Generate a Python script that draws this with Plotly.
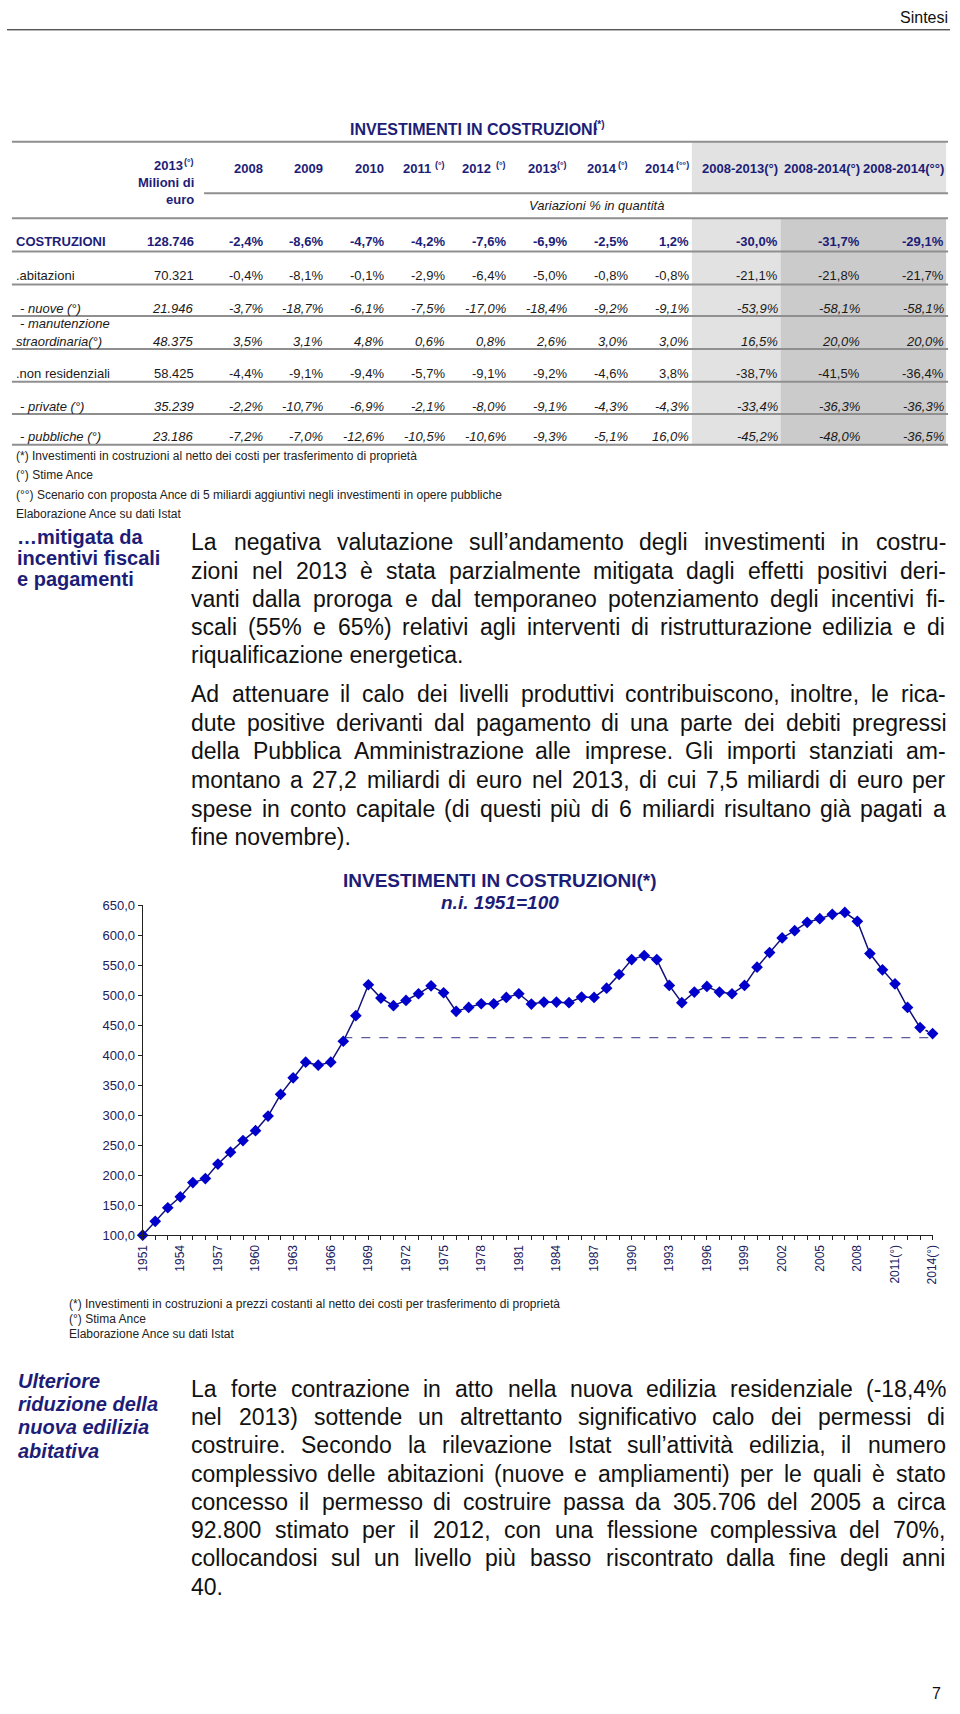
import plotly.graph_objects as go

W, H = 960, 1714
FONT = "Liberation Sans, Arial, sans-serif"
NAVY = "#1d1d77"
INK = "#1a1a1a"

# tabella: investimenti in costruzioni, variazioni % in quantità
col_heads = [("2008", ""), ("2009", ""), ("2010", ""), ("2011 ", "(°)"), ("2012 ", "(°)"), ("2013", "(°)"),
             ("2014", "(°)"), ("2014", "(°°)"), ("2008-2013(°)", ""), ("2008-2014(°)", ""), ("2008-2014(°°)", "")]
row_names = ["COSTRUZIONI", ".abitazioni", "- nuove (°)", "- manutenzione|straordinaria(°)",
             ".non residenziali", "- private (°)", "- pubbliche (°)"]
row_style = ["bold", "normal", "italic", "italic", "normal", "italic", "italic"]
mln_2013 = [128746, 70321, 21946, 48375, 58425, 35239, 23186]
var_costruzioni = [-2.4, -8.6, -4.7, -4.2, -7.6, -6.9, -2.5, 1.2, -30.0, -31.7, -29.1]
var_abitazioni = [-0.4, -8.1, -0.1, -2.9, -6.4, -5.0, -0.8, -0.8, -21.1, -21.8, -21.7]
var_nuove = [-3.7, -18.7, -6.1, -7.5, -17.0, -18.4, -9.2, -9.1, -53.9, -58.1, -58.1]
var_manutenzione = [3.5, 3.1, 4.8, 0.6, 0.8, 2.6, 3.0, 3.0, 16.5, 20.0, 20.0]
var_non_resid = [-4.4, -9.1, -9.4, -5.7, -9.1, -9.2, -4.6, 3.8, -38.7, -41.5, -36.4]
var_private = [-2.2, -10.7, -6.9, -2.1, -8.0, -9.1, -4.3, -4.3, -33.4, -36.3, -36.3]
var_pubbliche = [-7.2, -7.0, -12.6, -10.5, -10.6, -9.3, -5.1, 16.0, -45.2, -48.0, -36.5]
table_rows = [var_costruzioni, var_abitazioni, var_nuove, var_manutenzione,
              var_non_resid, var_private, var_pubbliche]

notes_table = ["(*) Investimenti in costruzioni al netto dei costi per trasferimento di proprietà",
               "(°) Stime Ance",
               "(°°) Scenario con proposta Ance di 5 miliardi aggiuntivi negli investimenti in opere pubbliche",
               "Elaborazione Ance su dati Istat"]

# grafico: indice 1951=100
years = list(range(1951, 2015))
index_values = [100.0, 123.1, 145.7, 163.9, 187.6, 194.2, 218.5, 238.3, 257.6, 274.1, 298.4, 334.6,
                362.2, 388.2, 383.2, 388.2, 423.1, 465.7, 517.2, 495.0, 482.3, 491.1, 502.2, 515.5,
                503.9, 472.9, 479.5, 485.6, 485.6, 496.1, 502.2, 485.1, 488.4, 488.4, 487.3, 496.7,
                496.1, 511.6, 534.3, 559.2, 565.9, 559.2, 516.1, 487.3, 505.0, 514.4, 505.0, 502.2,
                516.1, 546.5, 570.8, 595.2, 607.4, 621.2, 627.3, 634.5, 637.8, 622.9, 569.2, 542.1,
                518.8, 479.5, 445.8, 435.8]
ref_years = [1967, 2014]
ref_level = [429, 429]
y_ticks = [100, 150, 200, 250, 300, 350, 400, 450, 500, 550, 600, 650]
label_years = [1951, 1954, 1957, 1960, 1963, 1966, 1969, 1972, 1975, 1978, 1981, 1984,
               1987, 1990, 1993, 1996, 1999, 2002, 2005, 2008, 2011, 2014]
label_text = ["1951", "1954", "1957", "1960", "1963", "1966", "1969", "1972", "1975", "1978",
              "1981", "1984", "1987", "1990", "1993", "1996", "1999", "2002", "2005", "2008",
              "2011(°)", "2014(°)"]
notes_chart = ["(*) Investimenti in costruzioni a prezzi costanti al netto dei costi per trasferimento di proprietà",
               "(°) Stima Ance",
               "Elaborazione Ance su dati Istat"]

para_1 = ["La negativa valutazione sull’andamento degli investimenti in costru-",
          "zioni nel 2013 è stata parzialmente mitigata dagli effetti positivi deri-",
          "vanti dalla proroga e dal temporaneo potenziamento degli incentivi fi-",
          "scali (55% e 65%) relativi agli interventi di ristrutturazione edilizia e di",
          "riqualificazione energetica."]
para_2 = ["Ad attenuare il calo dei livelli produttivi contribuiscono, inoltre, le rica-",
          "dute positive derivanti dal pagamento di una parte dei debiti pregressi",
          "della Pubblica Amministrazione alle imprese. Gli importi stanziati am-",
          "montano a 27,2 miliardi di euro nel 2013, di cui 7,5 miliardi di euro per",
          "spese in conto capitale (di questi più di 6 miliardi risultano già pagati a",
          "fine novembre)."]
para_3 = ["La forte contrazione in atto nella nuova edilizia residenziale (-18,4%",
          "nel 2013) sottende un altrettanto significativo calo dei permessi di",
          "costruire. Secondo la rilevazione Istat sull’attività edilizia, il numero",
          "complessivo delle abitazioni (nuove e ampliamenti) per le quali è stato",
          "concesso il permesso di costruire passa da 305.706 del 2005 a circa",
          "92.800 stimato per il 2012, con una flessione complessiva del 70%,",
          "collocandosi sul un livello più basso riscontrato dalla fine degli anni",
          "40."]
side_1 = ["…mitigata da", "incentivi fiscali", "e pagamenti"]
side_2 = ["Ulteriore", "riduzione della", "nuova edilizia", "abitativa"]


def px(x):
    return x / W


def py(y):
    return 1 - y / H


ann = []
shapes = []


def txt(x, y, s, size=13, color=INK, anchor="left", bold=False, italic=False):
    ann.append(dict(x=px(x), y=py(y), xref="paper", yref="paper", text=s, showarrow=False,
                    xanchor=anchor, yanchor="middle", borderpad=0,
                    font=dict(family=FONT, size=size, color=color,
                              weight="bold" if bold else "normal",
                              style="italic" if italic else "normal")))


def hline(y, x0, x1, color="#8f8f8f", width=2):
    shapes.append(dict(type="line", xref="paper", yref="paper", x0=px(x0), x1=px(x1),
                       y0=py(y), y1=py(y), line=dict(color=color, width=width)))


def box(x0, x1, y0, y1, fill):
    shapes.append(dict(type="rect", xref="paper", yref="paper", x0=px(x0), x1=px(x1),
                       y0=py(y1), y1=py(y0), fillcolor=fill, line_width=0, layer="below"))


# larghezze Arial/Helvetica per giustificare il testo
HELV = {}
for chars, w in [("abdeghnopqu0123456789àèéòùL", 556), ("ckvxyzsJ", 500), ("ftI ,.:;!ì", 278),
                 ("ijl’", 222), ("r()-", 333), ("mM", 833), ("w", 722), ("%", 889), ("*", 389),
                 ("°", 400), ("ABEKPSVXY", 667), ("CDHNRU", 722), ("FTZ", 611), ("GOQ", 778), ("W", 944)]:
    for c in chars:
        HELV[c] = w


def text_width(s, size):
    return sum(HELV.get(c, 556) for c in s) * size / 1000


def sup_right(xr, y, base, sup, size=13, color=NAVY):
    # testo con apice, allineato a destra
    if not sup:
        txt(xr, y, base, size=size, color=color, anchor="right", bold=True)
        return
    sw = text_width(sup, 9) + 1
    txt(xr, y - 4, sup, size=9, color=color, anchor="right", bold=True)
    txt(xr - sw, y, base, size=size, color=color, anchor="right", bold=True)


def paragraph(lines, y0, step, x0=186, x1=951, size=23):
    for i, line in enumerate(lines):
        y = y0 + i * step
        if i == len(lines) - 1:
            txt(x0, y, line, size=size, color="#111111")
            continue
        words = line.split()
        free = x1 - x0 - sum(text_width(w, size) for w in words)
        gap = free / (len(words) - 1)
        x = x0
        for w in words:
            txt(x, y, w, size=size, color="#111111")
            x += text_width(w, size) + gap


# intestazione pagina
txt(956, 11, "Sintesi", size=16, color="#111111", anchor="right")
hline(23, 0, 957, color="#111111", width=1)

# tabella
col_right = [260.7, 321.7, 383.3, 445.7, 507.3, 569.3, 630.7, 692.7, 783.3, 866.7, 951.7]
row_y = [236.7, 271, 304.3, 337.3, 370, 402.7, 433.3]
row_rule = [246.7, 280, 311.7, 345, 378, 410.7, 441.7]

box(695, 953, 136, 188, "#e2e2e2")
box(695, 785, 213, 442, "#e2e2e2")
box(785, 953, 213, 442, "#cbcbcb")

title_base = "INVESTIMENTI IN COSTRUZIONI"
txt(347, 124, title_base, size=16, color=NAVY, bold=True)
txt(347 + text_width(title_base, 16) + 1, 119, "(*)", size=10, color=NAVY, bold=True)
hline(136, 5, 955)
sup_right(190.7, 160, "2013", "(°)")
txt(190.7, 177, "Milioni di", color=NAVY, anchor="right", bold=True)
txt(190.7, 194, "euro", color=NAVY, anchor="right", bold=True)
for (base, sup), xr in zip(col_heads, col_right):
    sup_right(xr, 163, base, sup)
hline(188, 200, 955)
txt(529, 200, "Variazioni % in quantità", italic=True)
hline(213, 5, 955)

for name, style, mln, vals, y, rule in zip(row_names, row_style, mln_2013, table_rows, row_y, row_rule):
    bold = style == "bold"
    ital = style == "italic"
    color = NAVY if bold else INK
    parts = name.split("|")
    for k, part in enumerate(parts):
        yy = y - 18.5 * (len(parts) - 1 - k)
        txt(12 if part.startswith("-") else 8, yy, part, color=color, bold=bold, italic=ital)
    txt(190.7, y, f"{mln:,}".replace(",", "."), color=color, anchor="right", bold=bold, italic=ital)
    for v, xr in zip(vals, col_right):
        txt(xr, y, f"{v:.1f}".replace(".", ",") + "%", color=color, anchor="right", bold=bold, italic=ital)
    hline(rule, 5, 955)

for i, note in enumerate(notes_table):
    txt(8, 453 + 19.5 * i, note, size=12, color="#222222")

# testo
for i, s in enumerate(side_1):
    txt(9, 535 + 21 * i, s, size=20, color=NAVY, bold=True)
paragraph(para_1, 540, 28.5)
paragraph(para_2, 693, 28.9)

for i, s in enumerate(side_2):
    txt(10, 1386 + 23.5 * i, s, size=20, color=NAVY, bold=True, italic=True)
paragraph(para_3, 1394, 28.5)

txt(500, 881, "INVESTIMENTI IN COSTRUZIONI(*)", size=19, color=NAVY, anchor="center", bold=True)
txt(500, 903, "n.i. 1951=100", size=19, color=NAVY, anchor="center", bold=True, italic=True)
for i, note in enumerate(notes_chart):
    txt(62, 1308 + 15.5 * i, note, size=12, color="#222222")

txt(943, 1701, "7", size=16, color="#111111", anchor="center")

# grafico
fig = go.Figure()
fig.add_trace(go.Scatter(x=ref_years, y=ref_level, mode="lines",
                         line=dict(color="#5c5c9c", width=1.3, dash="dash"), hoverinfo="skip"))
fig.add_trace(go.Scatter(x=years[:-1], y=index_values[:-1], mode="lines",
                         line=dict(color="#10107a", width=1.5), cliponaxis=False))
fig.add_trace(go.Scatter(x=years[-2:], y=index_values[-2:], mode="lines",
                         line=dict(color="#10107a", width=1.5, dash="dot"), cliponaxis=False))
fig.add_trace(go.Scatter(x=years, y=index_values, mode="markers",
                         marker=dict(symbol="diamond", size=9, color="#0000cc"), cliponaxis=False))

fig.update_layout(
    width=W, height=H,
    margin=dict(l=0, r=0, t=0, b=0),
    paper_bgcolor="white", plot_bgcolor="white",
    showlegend=False,
    annotations=ann, shapes=shapes,
    xaxis=dict(domain=[137.7 / W, 939.3 / W], range=[1951, 2014],
               tickvals=label_years, ticktext=label_text,
               tickangle=-90, ticks="outside", ticklen=4, tickcolor="#222222",
               minor=dict(tick0=1951, dtick=1, ticks="outside", ticklen=4, tickcolor="#222222",
                          showgrid=False),
               showline=True, linecolor="#222222", linewidth=1,
               showgrid=False, zeroline=False,
               tickfont=dict(family=FONT, size=12, color="#20205e")),
    yaxis=dict(domain=[py(1239), py(906)], range=[100, 650],
               tickvals=y_ticks, ticktext=[f"{v:.1f}".replace(".", ",") for v in y_ticks],
               ticks="outside", ticklen=4, tickcolor="#222222",
               showline=True, linecolor="#222222", linewidth=1,
               showgrid=False, zeroline=False,
               tickfont=dict(family=FONT, size=13, color="#20205e")),
)

fig.write_html("out.html", config={"displayModeBar": False},
               post_script="document.body.style.margin='0';")
